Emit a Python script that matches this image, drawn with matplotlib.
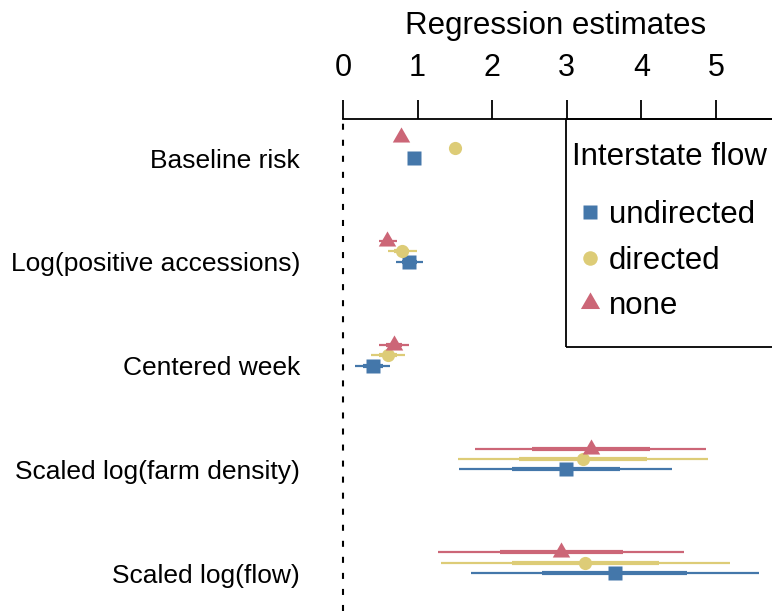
import matplotlib
matplotlib.use("Agg")
import matplotlib.pyplot as plt
from matplotlib.lines import Line2D
from matplotlib.patches import Rectangle
import numpy as np

plt.rcParams['font.family'] = ['Liberation Sans', 'DejaVu Sans']

categories = ["Baseline risk", "Log(positive accessions)", "Centered week",
              "Scaled log(farm density)", "Scaled log(flow)"]
series = ["undirected", "directed", "none"]
colors = ["#4477AA", "#DDCC77", "#CC6677"]

undirected_est = [0.95, 0.89, 0.40, 2.99, 3.64]
undirected_lo95 = [0.92, 0.71, 0.165, 1.55, 1.72]
undirected_hi95 = [0.98, 1.07, 0.625, 4.41, 5.57]
undirected_lo50 = [0.93, 0.79, 0.27, 2.26, 2.67]
undirected_hi50 = [0.97, 0.99, 0.53, 3.71, 4.61]

directed_est = [1.505, 0.79, 0.60, 3.22, 3.25]
directed_lo95 = [1.47, 0.60, 0.38, 1.54, 1.31]
directed_hi95 = [1.54, 0.99, 0.835, 4.89, 5.19]
directed_lo50 = [1.48, 0.69, 0.48, 2.36, 2.27]
directed_hi50 = [1.53, 0.89, 0.73, 4.07, 4.23]

none_est = [0.78, 0.59, 0.68, 3.32, 2.92]
none_lo95 = [0.74, 0.48, 0.48, 1.77, 1.28]
none_hi95 = [0.82, 0.72, 0.88, 4.87, 4.57]
none_lo50 = [0.76, 0.53, 0.57, 2.54, 2.10]
none_hi50 = [0.80, 0.66, 0.79, 4.11, 3.76]

xticks = [0, 1, 2, 3, 4, 5]

W, H = 772, 611
fig = plt.figure(figsize=(W / 100, H / 100), dpi=100)
ax_left = 343 / W
ax_wpx = 6 * 74.6
ax_top = 119
ax_hpx = H - ax_top
ax = fig.add_axes([ax_left, 0, ax_wpx / W, ax_hpx / H])

ypos = np.arange(len(categories))
offsets = [0.0, -0.1, -0.2]
ests = [undirected_est, directed_est, none_est]
lo95s = [undirected_lo95, directed_lo95, none_lo95]
hi95s = [undirected_hi95, directed_hi95, none_hi95]
lo50s = [undirected_lo50, directed_lo50, none_lo50]
hi50s = [undirected_hi50, directed_hi50, none_hi50]

tri = [(-1, -0.577), (1, -0.577), (0, 1.155)]
markers = ["s", "o", tri]
msizes = [9.5, 9.5, 14.5]

for k in range(3):
    y = ypos + offsets[k]
    ax.hlines(y, lo95s[k], hi95s[k], color=colors[k], lw=1.6, zorder=2)
    ax.hlines(y, lo50s[k], hi50s[k], color=colors[k], lw=3.0, zorder=2)
for k in range(3):
    y = ypos + offsets[k]
    ax.plot(ests[k], y, linestyle="none", marker=markers[k], ms=msizes[k],
            color=colors[k], mec="none", zorder=3)

ax.axvline(0, color="black", lw=1.5, linestyle=(0, (2.9, 4.8)), clip_on=False, zorder=1)

ax.set_xlim(0, 6)
ax.set_ylim(4.366, -0.376)
for s in ["left", "right", "bottom"]:
    ax.spines[s].set_visible(False)
ax.spines["top"].set_linewidth(1.3)
ax.xaxis.tick_top()
ax.xaxis.set_label_position("top")
ax.set_xticks(xticks)
ax.set_xticklabels([str(t) for t in xticks])
ax.tick_params(axis="x", direction="out", length=13.7, width=1.3, pad=12, labelsize=22)
ax.set_xlabel("Regression estimates", fontsize=22.5)
ax.xaxis.set_label_coords((555.5 - 343) / ax_wpx, 1 + 85 / ax_hpx)
ax.set_yticks(ypos)
ax.set_yticklabels(categories)
ax.tick_params(axis="y", length=0, pad=31, labelsize=19)

# legend box
fig.patches.append(Rectangle((566 / W, 1 - 347 / H), 300 / W, (347 - 119) / H,
                             transform=fig.transFigure, fill=False, ec="black", lw=1.3))
fig.text(572 / W, 1 - 165 / H, "Interstate flow", fontsize=22.5, ha="left", va="baseline")
handles = [Line2D([], [], linestyle="none", marker=markers[k], ms=msizes[k] * 1.1,
                  color=colors[k], mec="none") for k in range(3)]
leg = fig.legend(handles, series, frameon=False,
                 loc="upper left", bbox_to_anchor=(580.4 / W, 1 - 200 / H),
                 bbox_transform=fig.transFigure, fontsize=22.5,
                 borderpad=0, borderaxespad=0, handlelength=0.6,
                 handletextpad=0.3, labelspacing=0.5)

fig.savefig("out.png", dpi=100)
